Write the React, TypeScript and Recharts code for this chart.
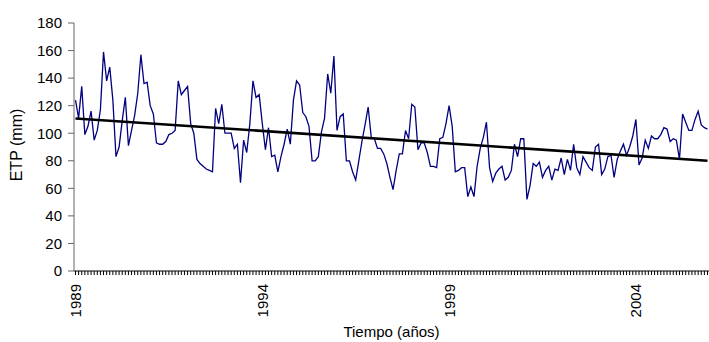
import React from 'react';
import { LineChart, Line, XAxis, YAxis } from 'recharts';

const startYear = 1989;

// Monthly ETP (mm), Jan 1989 .. Dec 2005
const etpValues: number[] = [
  124, 111, 134, 99, 105, 116, 95, 102, 117, 159,
  138, 148, 124, 83, 90, 109, 126, 91, 102, 113,
  129, 157, 136, 137, 120, 114, 93, 92, 92, 94,
  99, 100, 102, 138, 128, 131, 134, 107, 100, 81,
  78, 76, 74, 73, 72, 118, 107, 121, 100, 100,
  100, 89, 92, 64, 95, 86, 107, 138, 126, 128,
  107, 88, 104, 83, 84, 72, 83, 92, 103, 92,
  124, 138, 135, 115, 112, 105, 80, 80, 83, 101,
  111, 143, 129, 156, 102, 112, 114, 80, 80, 72,
  66, 80, 94, 106, 119, 97, 96, 89, 89, 85,
  78, 68, 59, 73, 85, 85, 102, 96, 121, 119,
  88, 93, 93, 86, 76, 76, 75, 96, 97, 107,
  120, 105, 72, 73, 75, 75, 54, 61, 54, 76,
  89, 97, 108, 75, 65, 71, 74, 76, 66, 68,
  73, 92, 83, 96, 96, 52, 62, 78, 76, 79,
  68, 73, 76, 66, 74, 73, 82, 70, 81, 73,
  92, 75, 70, 83, 79, 75, 73, 90, 92, 70,
  74, 83, 84, 68, 81, 87, 92, 84, 90, 98,
  110, 77, 82, 95, 89, 98, 96, 96, 99, 104,
  103, 94, 96, 95, 81, 114, 108, 102, 102, 110,
  116, 106, 104, 103,
];

// Linear trend end points
const trendStart = 110.7;
const trendEnd = 80;

const labeledYears: string[] = ['1989', '1994', '1999', '2004'];
const yTicks: number[] = [0, 20, 40, 60, 80, 100, 120, 140, 160, 180];

const data = etpValues.map((v, i) => ({
  cat: `${startYear + Math.floor(i / 12)}-${(i % 12) + 1}`,
  etp: v,
  trend: i === 0 ? trendStart : i === etpValues.length - 1 ? trendEnd : null,
}));

const FONT = '"Liberation Sans", Arial, sans-serif';

const XTick = (props: any) => {
  const { x, y, payload } = props;
  const [yr, m] = String(payload.value).split('-');
  if (m !== '1' || !labeledYears.includes(yr)) return <g />;
  return (
    <text
      x={x}
      y={y}
      transform={`rotate(-90, ${x}, ${y})`}
      textAnchor="end"
      dominantBaseline="central"
      fontSize={15}
      fontFamily={FONT}
      fill="#000"
    >
      {yr}
    </text>
  );
};

const YTitle = (props: any) => {
  const vb = props.viewBox || { y: 23, height: 248 };
  const cy = vb.y + vb.height / 2 - 2;
  return (
    <text
      x={16}
      y={cy}
      transform={`rotate(-90, 16, ${cy})`}
      textAnchor="middle"
      dominantBaseline="central"
      fontSize={16}
      fontFamily={FONT}
      fill="#000"
    >
      ETP (mm)
    </text>
  );
};

const XTitle = (props: any) => {
  const vb = props.viewBox || { x: 74, width: 635 };
  const cx = vb.x + vb.width / 2;
  return (
    <text
      x={cx}
      y={337}
      textAnchor="middle"
      fontSize={15}
      fontFamily={FONT}
      fill="#000"
    >
      Tiempo (años)
    </text>
  );
};

export default function App() {
  return (
    <div style={{ position: 'absolute', left: 0, top: 0, background: '#fff' }}>
      <LineChart
        width={709}
        height={342}
        data={data}
        margin={{ top: 23, right: 0, bottom: 0, left: 0 }}
      >
        <XAxis
          dataKey="cat"
          interval={0}
          tick={<XTick />}
          tickSize={4}
          tickMargin={9}
          height={71}
          padding={{ left: 1.5, right: 1.5 }}
          stroke="#000"
          tickLine={{ stroke: '#000' }}
          label={<XTitle />}
        />
        <YAxis
          domain={[0, 180]}
          ticks={yTicks}
          width={74}
          tickSize={6}
          tickMargin={6}
          stroke="#666"
          tick={{ fontSize: 15, fontFamily: FONT, fill: '#000' }}
          label={<YTitle />}
        />
        <Line
          type="linear"
          dataKey="etp"
          stroke="#000080"
          strokeWidth={1.3}
          dot={false}
          isAnimationActive={false}
        />
        <Line
          type="linear"
          dataKey="trend"
          stroke="#000"
          strokeWidth={2.6}
          dot={false}
          connectNulls
          isAnimationActive={false}
        />
      </LineChart>
    </div>
  );
}
